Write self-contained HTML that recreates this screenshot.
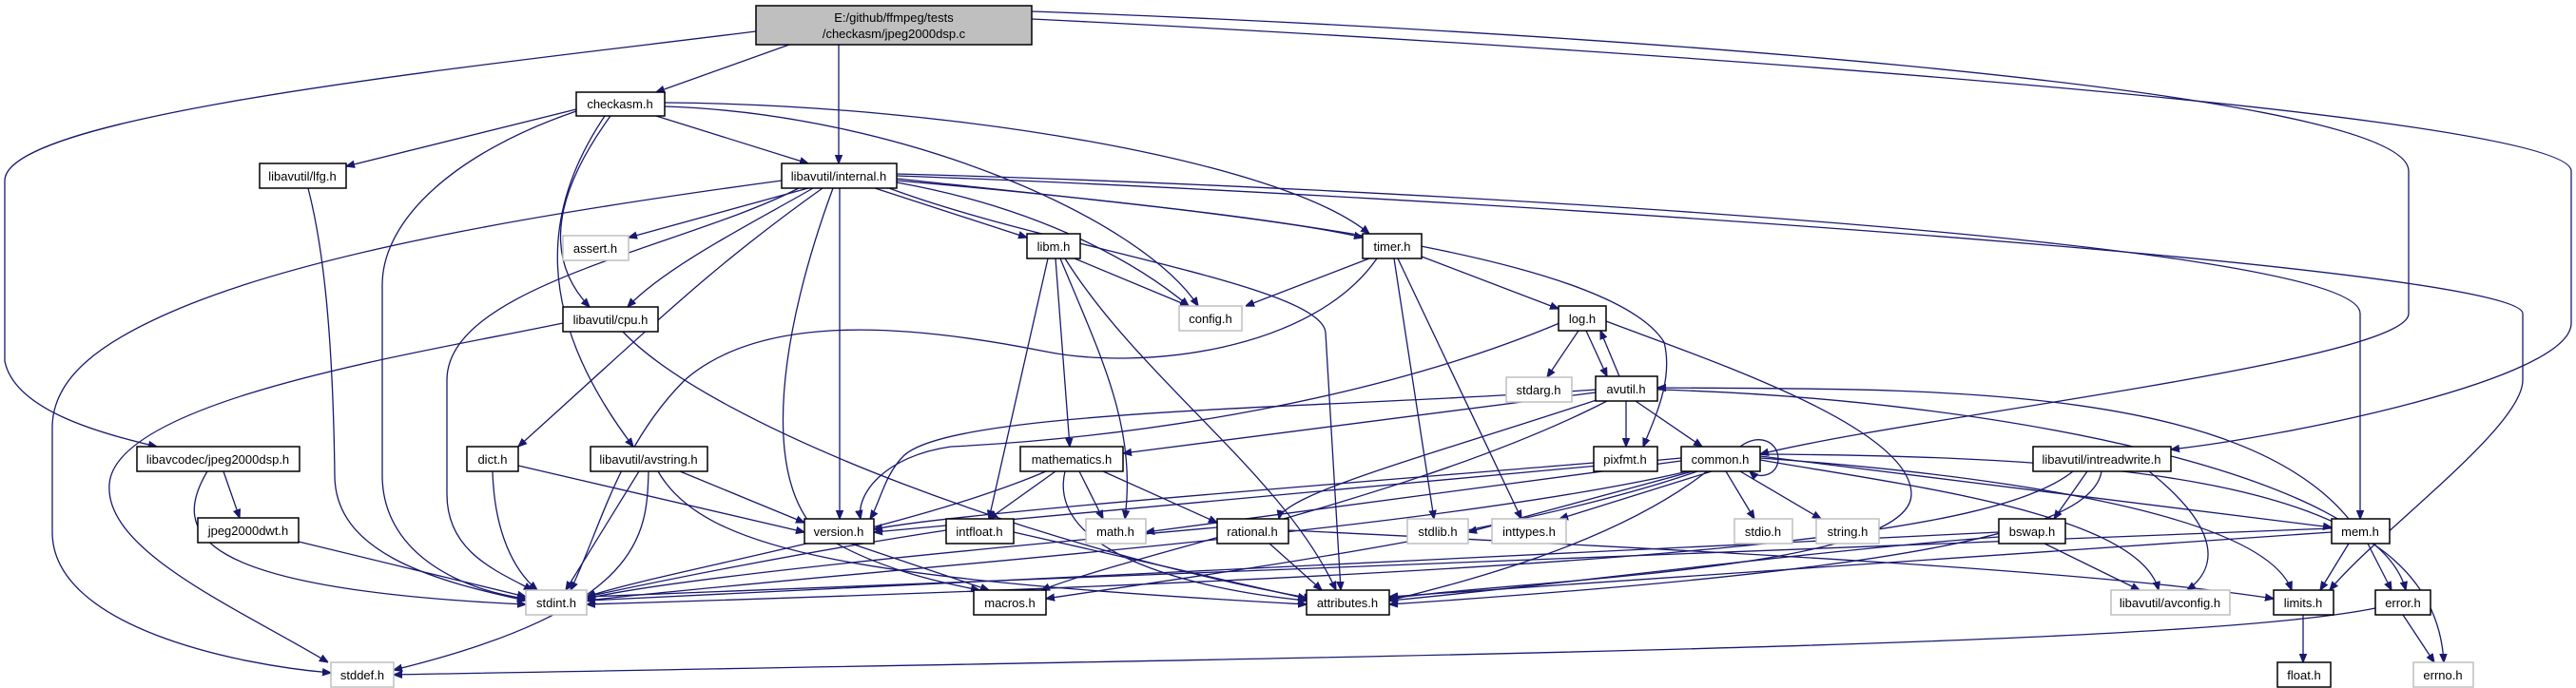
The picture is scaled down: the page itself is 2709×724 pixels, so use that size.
<!DOCTYPE html>
<html><head><meta charset="utf-8"><style>
html,body{margin:0;padding:0;background:#fff;}
svg{display:block}
.n rect{fill:#fff;stroke:#000;stroke-width:1.5}
.g rect{fill:#fff;stroke:#bfbfbf;stroke-width:1.5}
text{font-family:"Liberation Sans",sans-serif;font-size:13px;fill:#000}
path{fill:none;stroke:#191970;stroke-width:1.3}
</style></head><body>
<svg width="2709" height="724" viewBox="0 0 2709 724" xmlns="http://www.w3.org/2000/svg">
<defs><marker id="a" viewBox="0 0 10 10" refX="10" refY="5" markerWidth="9" markerHeight="9" markerUnits="userSpaceOnUse" orient="auto"><path d="M0,1 L10,5 L0,9 z" style="fill:#191970;stroke:#191970"/></marker></defs>
<g marker-end="url(#a)">
<path d="M830,47 L690,97"/>
<path d="M882,47 L882,172"/>
<path d="M795,33 C500,70 5,120 5,190 L5,380 C15,430 100,455 165,470"/>
<path d="M1085,12 C1600,30 2533,90 2533,180 L2533,330 C2533,380 2000,440 1851,478"/>
<path d="M1085,20 C1700,50 2704,120 2704,180 L2704,340 C2704,400 2400,460 2283,473"/>
<path d="M606,115 L364,175"/>
<path d="M690,122 L850,172"/>
<path d="M642,122 C600,180 560,260 620,323"/>
<path d="M636,122 C570,220 560,330 666,470"/>
<path d="M606,117 C480,160 402,230 402,300 L402,500 C402,580 480,620 553,630"/>
<path d="M699,112 C950,120 1200,230 1260,322"/>
<path d="M699,108 C1000,110 1350,170 1440,246"/>
<path d="M324,198 C340,260 350,350 352,500 C352,580 450,610 553,632"/>
<path d="M850,198 L661,250"/>
<path d="M855,198 C800,230 700,280 660,323"/>
<path d="M865,198 C750,280 700,330 545,470"/>
<path d="M822,190 C600,220 350,260 200,320 C100,360 55,400 55,450 L55,560 C55,660 250,700 348,708"/>
<path d="M592,340 C450,370 120,420 115,510 C110,580 250,640 345,697"/>
<path d="M840,198 C720,260 470,300 470,400 L470,520 C470,580 520,600 560,621"/>
<path d="M883,198 L883,546"/>
<path d="M920,198 L1080,250"/>
<path d="M943,192 C1100,220 1200,280 1250,322"/>
<path d="M943,188 C1150,210 1350,230 1433,250"/>
<path d="M943,190 C1400,230 1700,280 1750,360 C1760,400 1740,440 1728,470"/>
<path d="M943,183 C1400,195 2482,250 2482,330 L2482,546"/>
<path d="M943,185 C1500,205 2653,280 2653,330 L2653,400 C2653,450 2500,560 2450,621"/>
<path d="M935,198 C1100,260 1390,300 1394,350 L1410,621"/>
<path d="M876,198 C820,350 800,500 860,560 C920,600 1000,615 1030,621"/>
<path d="M655,349 C750,450 1100,580 1380,630"/>
<path d="M1130,272 L1250,322"/>
<path d="M1120,272 C1200,400 1350,500 1405,621"/>
<path d="M1102,272 L1040,546"/>
<path d="M1110,272 L1125,470"/>
<path d="M1115,272 C1160,380 1195,450 1183,546"/>
<path d="M1440,272 L1310,322"/>
<path d="M1495,270 L1639,325"/>
<path d="M1448,272 C1380,370 1200,390 1100,370 C950,340 800,330 720,400 C650,470 630,560 600,621"/>
<path d="M1466,272 L1508,546"/>
<path d="M1470,272 L1600,546"/>
<path d="M1660,348 L1627,397"/>
<path d="M1668,348 L1690,396"/>
<path d="M1703,396 L1683,348"/>
<path d="M1689,338 C1800,380 2010,450 2010,520 C2010,600 1600,610 1461,630"/>
<path d="M1640,340 C1450,420 1200,460 1000,470 C930,480 900,520 905,546"/>
<path d="M1678,410 C1400,430 1000,430 950,480 C930,500 925,530 915,546"/>
<path d="M1678,413 L1181,477"/>
<path d="M1685,419 C1500,480 1350,520 1345,546"/>
<path d="M1690,422 C1500,520 1200,580 1095,621"/>
<path d="M1710,422 L1710,470"/>
<path d="M1720,422 L1790,470"/>
<path d="M2470,546 C2350,400 2000,410 1743,408"/>
<path d="M1743,410 C2100,420 2500,500 2530,621"/>
<path d="M1676,487 C1400,510 1000,540 919,557"/>
<path d="M1830,470 C1850,455 1870,465 1870,483 C1870,500 1850,505 1840,496"/>
<path d="M1768,482 L919,560"/>
<path d="M1768,485 L1205,560"/>
<path d="M1780,496 L1544,560"/>
<path d="M1800,496 L1640,546"/>
<path d="M1815,496 L1845,546"/>
<path d="M1830,496 L1915,546"/>
<path d="M1775,496 C1500,560 900,600 617,632"/>
<path d="M1785,496 C1600,560 1300,600 1100,630"/>
<path d="M1795,496 C1700,570 1550,610 1461,632"/>
<path d="M1851,484 C2000,510 2250,540 2270,621"/>
<path d="M1851,482 C2100,500 2380,540 2410,621"/>
<path d="M1851,478 C2300,480 2560,520 2570,697"/>
<path d="M1851,480 L2452,555"/>
<path d="M2195,496 L2160,546"/>
<path d="M2260,496 C2340,560 2330,600 2300,621"/>
<path d="M2210,496 C2200,560 2000,600 1461,636"/>
<path d="M2180,496 C2100,560 1800,600 617,636"/>
<path d="M2150,572 L2250,621"/>
<path d="M2102,565 C1900,580 1600,620 1461,632"/>
<path d="M2102,560 L617,632"/>
<path d="M2470,572 L2440,621"/>
<path d="M2490,572 L2515,621"/>
<path d="M2452,560 L1461,628"/>
<path d="M2452,556 L617,628"/>
<path d="M2422,647 L2422,697"/>
<path d="M2527,647 L2560,697"/>
<path d="M2498,640 C2300,680 1500,690 414,710"/>
<path d="M1110,496 L1040,546"/>
<path d="M1135,496 L1160,546"/>
<path d="M1160,496 L1280,550"/>
<path d="M1120,496 C1100,580 1250,620 1374,632"/>
<path d="M1100,496 C950,560 700,600 617,628"/>
<path d="M995,558 C850,580 700,610 617,628"/>
<path d="M1066,560 L1374,630"/>
<path d="M1280,555 C1000,580 700,610 617,630"/>
<path d="M1335,572 L1390,621"/>
<path d="M1355,558 C1800,580 2200,600 2391,630"/>
<path d="M895,572 L1040,621"/>
<path d="M518,496 C520,560 540,600 565,621"/>
<path d="M545,490 L846,560"/>
<path d="M672,496 L595,621"/>
<path d="M682,496 C680,560 680,640 414,705"/>
<path d="M715,496 L846,550"/>
<path d="M692,496 C740,580 900,610 1374,636"/>
<path d="M235,496 L252,545"/>
<path d="M218,496 C180,560 200,620 553,636"/>
<path d="M314,570 L553,628"/>
</g>
<g text-anchor="middle">
<g class="n"><rect x="795" y="6" width="290" height="41" style="fill:#bfbfbf"/><text x="940" y="23">E:/github/ffmpeg/tests</text><text x="940" y="40">/checkasm/jpeg2000dsp.c</text></g>
<g class="n"><rect x="606" y="97" width="93" height="25"/><text x="652" y="114">checkasm.h</text></g>
<g class="n"><rect x="273" y="172" width="91" height="26"/><text x="318" y="190">libavutil/lfg.h</text></g>
<g class="n"><rect x="822" y="172" width="121" height="26"/><text x="882" y="190">libavutil/internal.h</text></g>
<g class="g"><rect x="592" y="248" width="69" height="26"/><text x="626" y="266">assert.h</text></g>
<g class="n"><rect x="1080" y="246" width="56" height="26"/><text x="1108" y="264">libm.h</text></g>
<g class="n"><rect x="1433" y="246" width="62" height="26"/><text x="1464" y="264">timer.h</text></g>
<g class="n"><rect x="592" y="323" width="100" height="26"/><text x="642" y="341">libavutil/cpu.h</text></g>
<g class="g"><rect x="1240" y="322" width="66" height="26"/><text x="1273" y="340">config.h</text></g>
<g class="n"><rect x="1639" y="322" width="50" height="26"/><text x="1664" y="340">log.h</text></g>
<g class="g"><rect x="1584" y="397" width="69" height="26"/><text x="1618" y="415">stdarg.h</text></g>
<g class="n"><rect x="1678" y="396" width="65" height="26"/><text x="1710" y="414">avutil.h</text></g>
<g class="n"><rect x="144" y="470" width="171" height="26"/><text x="229" y="488">libavcodec/jpeg2000dsp.h</text></g>
<g class="n"><rect x="491" y="470" width="54" height="26"/><text x="518" y="488">dict.h</text></g>
<g class="n"><rect x="621" y="470" width="123" height="26"/><text x="682" y="488">libavutil/avstring.h</text></g>
<g class="n"><rect x="1073" y="470" width="108" height="26"/><text x="1127" y="488">mathematics.h</text></g>
<g class="n"><rect x="1676" y="470" width="67" height="26"/><text x="1709" y="488">pixfmt.h</text></g>
<g class="n"><rect x="1768" y="470" width="83" height="26"/><text x="1809" y="488">common.h</text></g>
<g class="n"><rect x="2138" y="470" width="145" height="26"/><text x="2210" y="488">libavutil/intreadwrite.h</text></g>
<g class="n"><rect x="208" y="545" width="106" height="26"/><text x="261" y="563">jpeg2000dwt.h</text></g>
<g class="n"><rect x="846" y="546" width="73" height="26"/><text x="882" y="564">version.h</text></g>
<g class="n"><rect x="995" y="546" width="71" height="26"/><text x="1030" y="564">intfloat.h</text></g>
<g class="g"><rect x="1142" y="546" width="63" height="26"/><text x="1173" y="564">math.h</text></g>
<g class="n"><rect x="1280" y="546" width="75" height="26"/><text x="1317" y="564">rational.h</text></g>
<g class="g"><rect x="1480" y="546" width="64" height="26"/><text x="1512" y="564">stdlib.h</text></g>
<g class="g"><rect x="1569" y="546" width="78" height="26"/><text x="1608" y="564">inttypes.h</text></g>
<g class="g"><rect x="1824" y="546" width="61" height="26"/><text x="1854" y="564">stdio.h</text></g>
<g class="g"><rect x="1910" y="546" width="66" height="26"/><text x="1943" y="564">string.h</text></g>
<g class="n"><rect x="2102" y="546" width="70" height="26"/><text x="2137" y="564">bswap.h</text></g>
<g class="n"><rect x="2452" y="546" width="61" height="26"/><text x="2482" y="564">mem.h</text></g>
<g class="g"><rect x="553" y="621" width="64" height="26"/><text x="585" y="639">stdint.h</text></g>
<g class="n"><rect x="1024" y="621" width="76" height="26"/><text x="1062" y="639">macros.h</text></g>
<g class="n"><rect x="1374" y="621" width="87" height="26"/><text x="1417" y="639">attributes.h</text></g>
<g class="g"><rect x="2220" y="621" width="125" height="26"/><text x="2282" y="639">libavutil/avconfig.h</text></g>
<g class="n"><rect x="2391" y="621" width="63" height="26"/><text x="2422" y="639">limits.h</text></g>
<g class="n"><rect x="2498" y="621" width="58" height="26"/><text x="2527" y="639">error.h</text></g>
<g class="g"><rect x="348" y="697" width="66" height="26"/><text x="381" y="715">stddef.h</text></g>
<g class="n"><rect x="2395" y="697" width="56" height="26"/><text x="2423" y="715">float.h</text></g>
<g class="g"><rect x="2538" y="697" width="63" height="26"/><text x="2569" y="715">errno.h</text></g>
</g>
</svg>
</body></html>
